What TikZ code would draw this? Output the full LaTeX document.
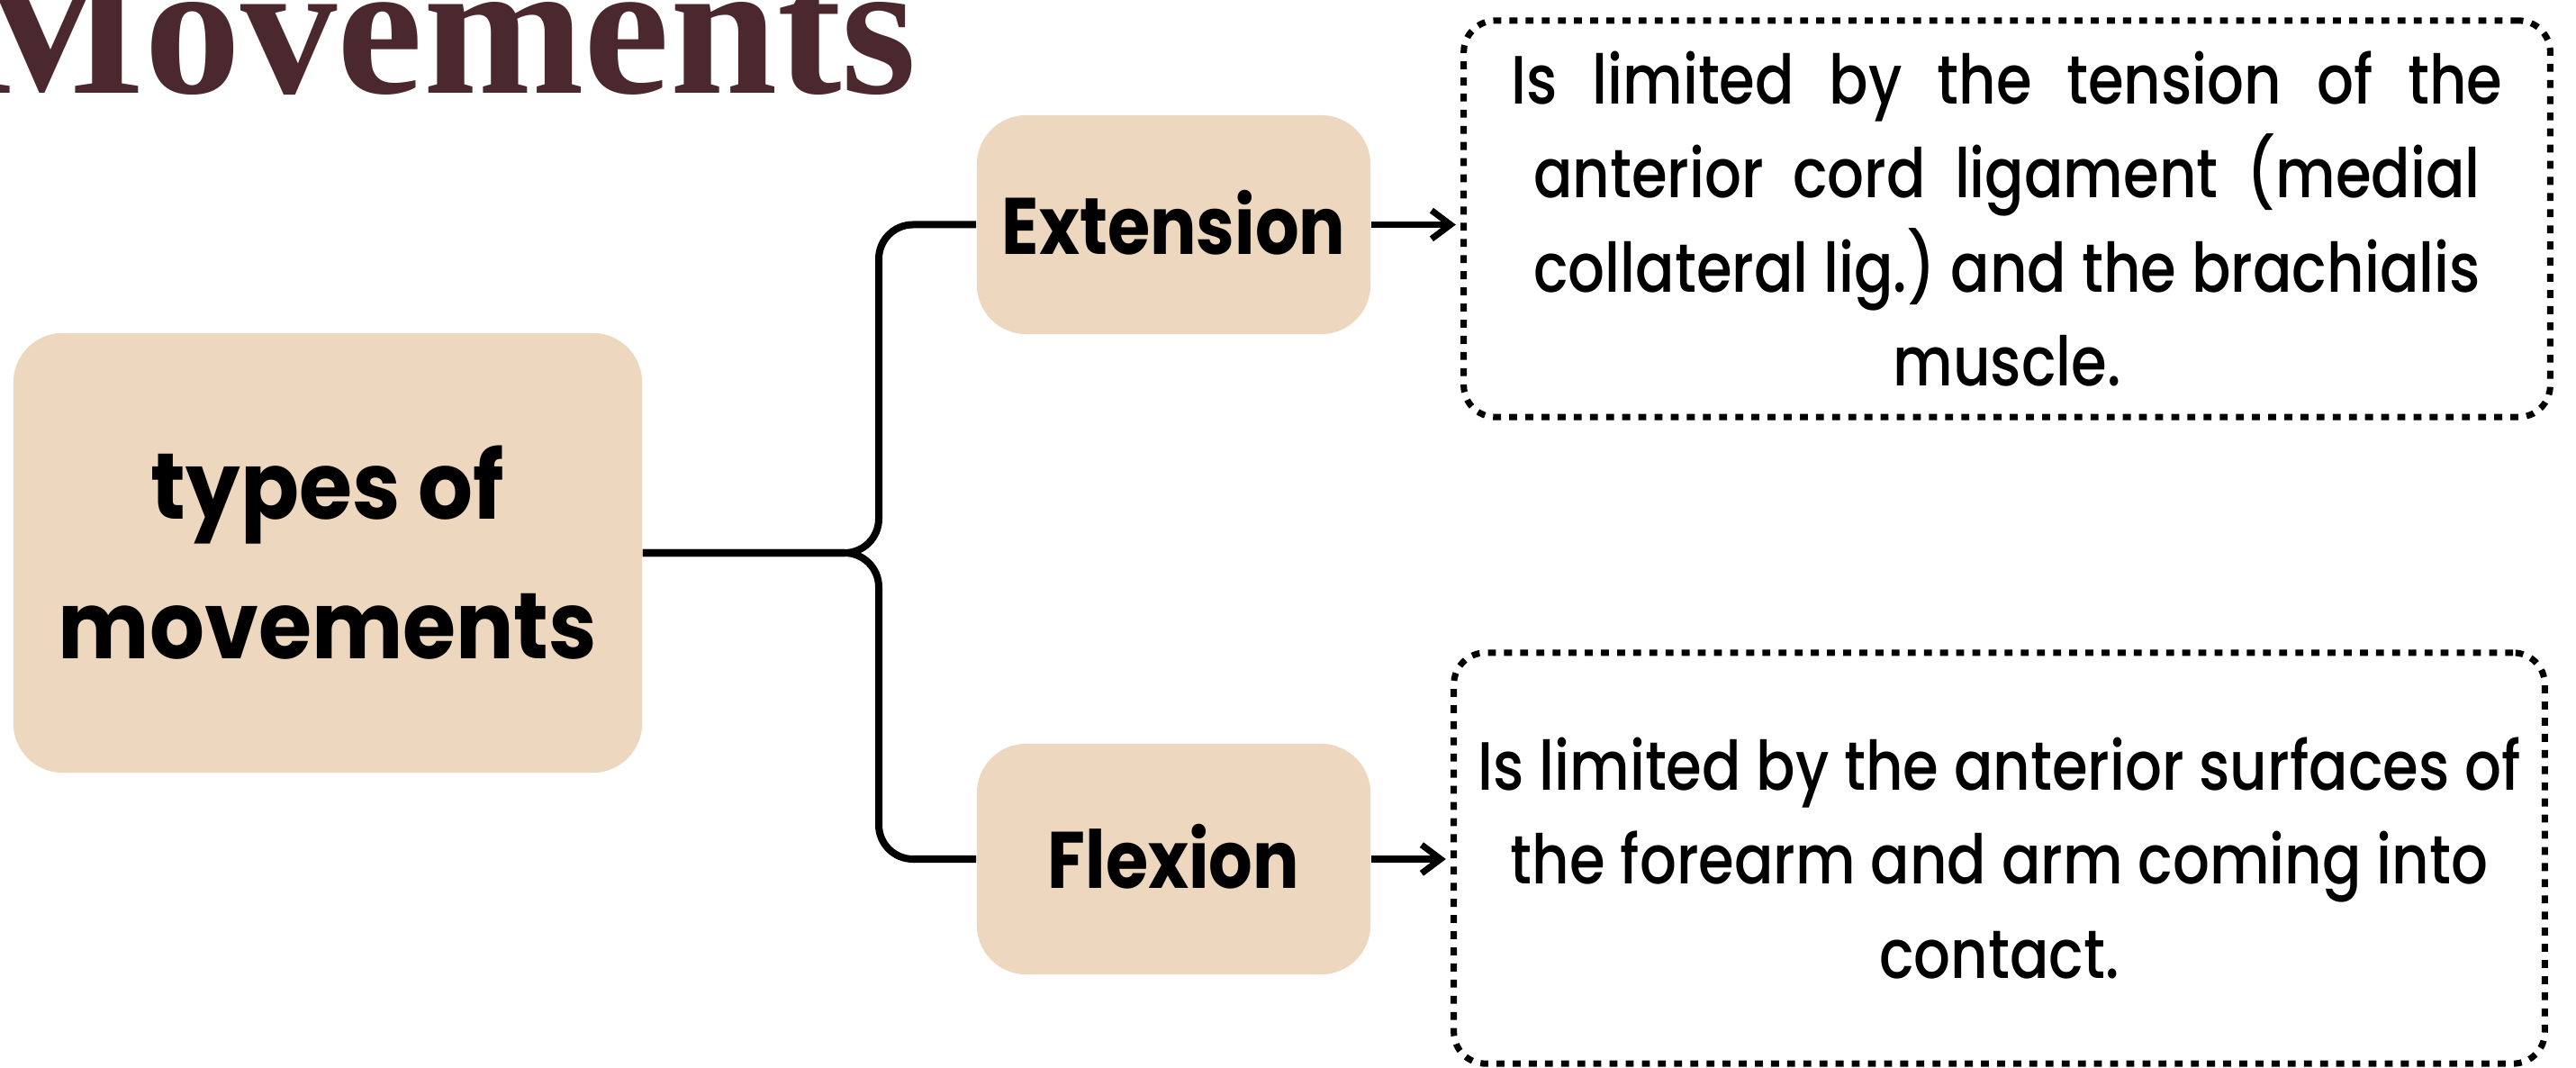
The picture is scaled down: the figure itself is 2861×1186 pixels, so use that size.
\documentclass[tikz,border=0pt]{standalone}
\usepackage{fontspec}
\usetikzlibrary{arrows.meta}
\newfontfamily\bodyfont[FakeStretch=0.845]{Poppins Medium}
\newfontfamily\headfont[FakeStretch=0.92]{Poppins}
\newfontfamily\subfont[FakeStretch=0.86]{Poppins}
\newfontfamily\titlefont{Liberation Serif}
\definecolor{boxfill}{HTML}{EED7BF}
\definecolor{titlecol}{HTML}{4B282D}
\frenchspacing
\begin{document}
\begin{tikzpicture}[x=0.01cm,y=-0.01cm,
  pbox/.style={fill=boxfill, rounded corners=15.6pt, inner sep=0pt, align=center, text=black},
  dotbox/.style={draw=black, line width=2pt, dash pattern=on 2.5pt off 2.6pt, rounded corners=10pt, inner sep=0pt, align=center,
    font=\bodyfont\fontsize{21.6}{29.6}\selectfont},
  link/.style={line width=2.28pt, rounded corners=10.8pt},
  arr/.style={line width=2pt, shorten >=1.5pt, -{Straight Barb[length=6pt,width=9pt,line width=2pt]}}
]
\clip (0,0) rectangle (2861,1186);
\fill[white] (0,0) rectangle (2861,1186);

\node[anchor=base east, inner sep=0pt, text=titlecol,
  font=\titlefont\bfseries\fontsize{61}{61}\selectfont] (title) at (1019,104) {Movements};

\node[pbox, minimum width=6.98cm, minimum height=4.88cm,
  font=\headfont\bfseries\fontsize{29.6}{44.1}\selectfont] (main) at (364,614) {types of\\movements};
\node[pbox, minimum width=4.37cm, minimum height=2.43cm,
  font=\subfont\bfseries\fontsize{25.3}{30}\selectfont] (ext) at (1303.5,249.5) {\raisebox{1.6pt}{Extension}};
\node[pbox, minimum width=4.37cm, minimum height=2.56cm,
  font=\subfont\bfseries\fontsize{25.3}{30}\selectfont] (flex) at (1303.5,954) {\raisebox{1.6pt}{Flexion}};

\node[dotbox, minimum width=12.06cm, minimum height=4.40cm] (d1) at (2229,243)
  {\makebox[313pt][s]{Is limited by the tension of the}\\
   \makebox[299pt][s]{anterior cord ligament (medial}\\
   \makebox[299pt][s]{collateral lig.) and the brachialis}\\
   muscle.};
\node[dotbox, minimum width=12.11cm, minimum height=4.56cm] (d2) at (2220.5,953)
  {Is limited by the anterior surfaces of\\
   the forearm and arm coming into\\
   contact.};

\coordinate (jn) at (976,614);
\draw[link] (main.east) -- (jn) |- (ext.west);
\draw[link] (main.east) -- (jn) |- (flex.west);

\draw[arr] (ext.east) -- (ext.east -| d1.west);
\draw[arr] (flex.east) -- (flex.east -| d2.west);
\end{tikzpicture}
\end{document}
